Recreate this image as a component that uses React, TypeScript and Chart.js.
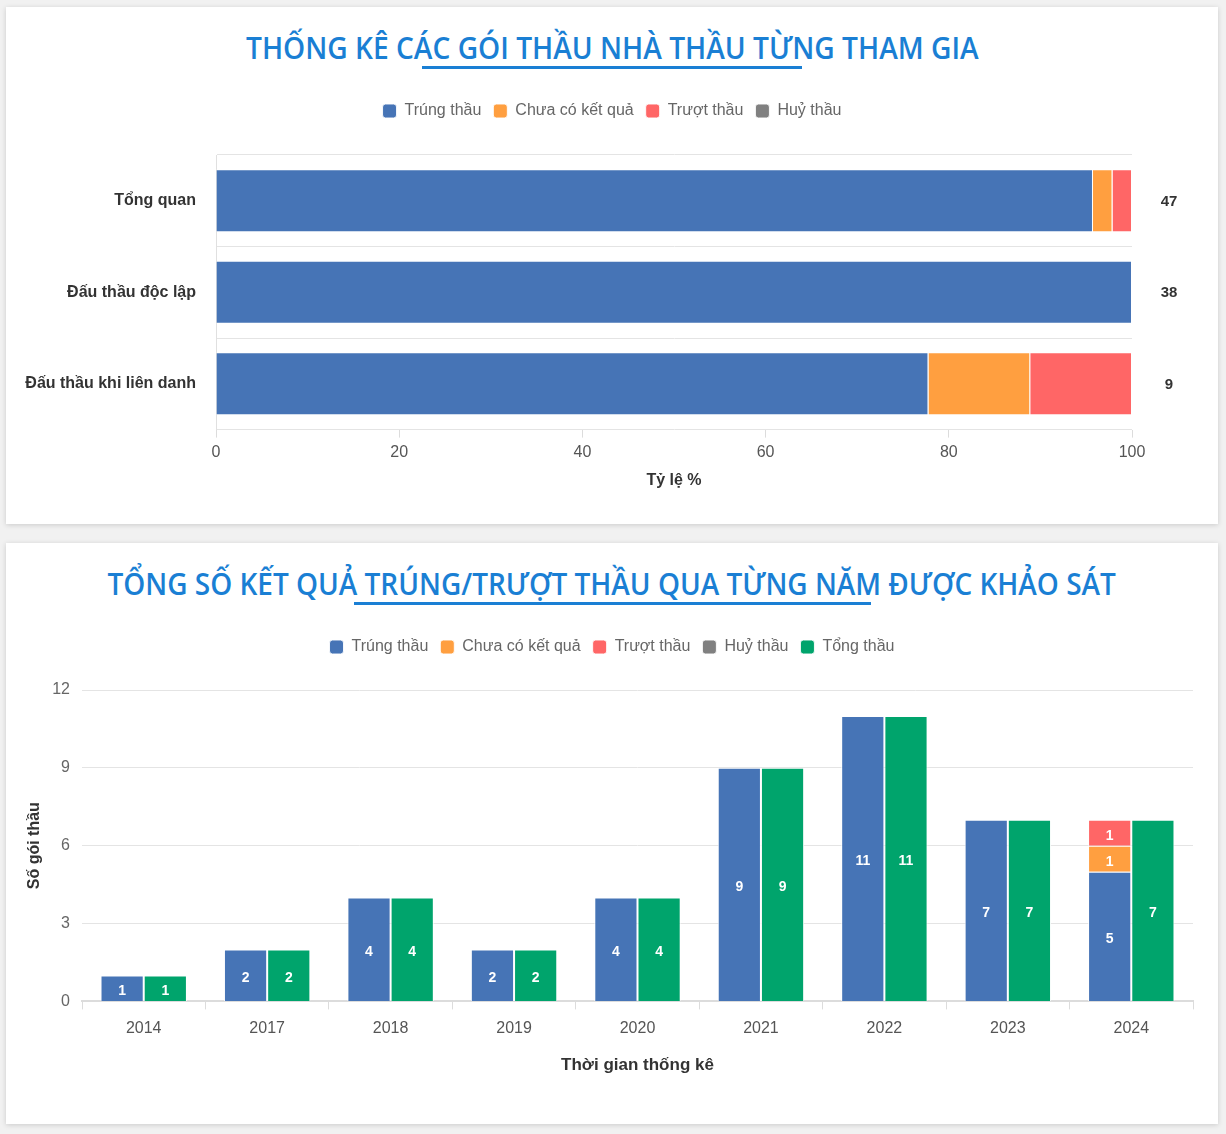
import React, { useEffect, useLayoutEffect, useRef } from "react";
import { Chart, registerables } from "chart.js";

Chart.register(...registerables);

// ---------- Data: chart 1 (percentage share per group) ----------
const overviewCategories = ["Tổng quan", "Đấu thầu độc lập", "Đấu thầu khi liên danh"];
const overviewTotals = [47, 38, 9];
const overviewWon = [95.74, 100, 77.78];
const overviewPending = [2.13, 0, 11.11];
const overviewLost = [2.13, 0, 11.11];
const overviewCancelled = [0, 0, 0];
const overviewAxisMax = 100;
const overviewAxisStep = 20;

// ---------- Data: chart 2 (counts per year) ----------
const years = ["2014", "2017", "2018", "2019", "2020", "2021", "2022", "2023", "2024"];
const yearWon = [1, 2, 4, 2, 4, 9, 11, 7, 5];
const yearPending = [0, 0, 0, 0, 0, 0, 0, 0, 1];
const yearLost = [0, 0, 0, 0, 0, 0, 0, 0, 1];
const yearCancelled = [0, 0, 0, 0, 0, 0, 0, 0, 0];
const yearTotal = [1, 2, 4, 2, 4, 9, 11, 7, 7];
const yearAxisMax = 12;
const yearAxisStep = 3;

const TITLE_1 = "THỐNG KÊ CÁC GÓI THẦU NHÀ THẦU TỪNG THAM GIA";
const TITLE_2 = "TỔNG SỐ KẾT QUẢ TRÚNG/TRƯỢT THẦU QUA TỪNG NĂM ĐƯỢC KHẢO SÁT";

const BLUE = "#4674b6";
const ORANGE = "#ff9f40";
const RED = "#ff6666";
const GREY = "#808080";
const GREEN = "#00a46c";
const TITLE_BLUE = "#1a7fd4";
const FONT = '"Liberation Sans", Arial, sans-serif';

Chart.defaults.font.family = FONT;

const legendGap = (extra: number) => ({
  id: "legendGap",
  beforeInit(chart: any) {
    const legend = chart.legend;
    if (!legend) return;
    const fit = legend.fit;
    legend.fit = function () {
      fit.call(this);
      this.height += extra;
    };
  },
  afterLayout(chart: any) {
    const legend = chart.legend;
    if (!legend) return;
    // center the legend on the whole canvas rather than on the padded area
    legend.left = 0;
    legend.right = chart.width;
  },
});

const totalsLabels = {
  id: "totalsLabels",
  afterDatasetsDraw(chart: any) {
    const { ctx, chartArea } = chart;
    const yScale = chart.scales.y;
    ctx.save();
    ctx.font = `bold 15px ${FONT}`;
    ctx.fillStyle = "#333";
    ctx.textAlign = "center";
    ctx.textBaseline = "middle";
    overviewTotals.forEach((t, i) => {
      ctx.fillText(String(t), chartArea.right + 37, yScale.getPixelForValue(i) + 1);
    });
    ctx.restore();
  },
};

const barValueLabels = {
  id: "barValueLabels",
  afterDatasetsDraw(chart: any) {
    const ctx = chart.ctx;
    ctx.save();
    ctx.font = `bold 14px ${FONT}`;
    ctx.fillStyle = "#fff";
    ctx.textAlign = "center";
    ctx.textBaseline = "middle";
    chart.data.datasets.forEach((ds: any, i: number) => {
      const meta = chart.getDatasetMeta(i);
      if (meta.hidden) return;
      meta.data.forEach((el: any, j: number) => {
        const v = ds.data[j];
        if (!v) return;
        const p = el.getProps(["x", "y", "base"], true);
        ctx.fillText(String(v), p.x, (p.y + p.base) / 2 + 3);
      });
    });
    ctx.restore();
  },
};

const legendOptions = {
  position: "top" as const,
  labels: {
    boxWidth: 14,
    boxHeight: 14,
    useBorderRadius: true,
    borderRadius: 3,
    padding: 12,
    color: "#666",
    font: { size: 16, family: FONT },
  },
};

function TitleBlock({ text, target, underline }: { text: string; target: number; underline: number }) {
  const ref = useRef<HTMLSpanElement>(null);
  useLayoutEffect(() => {
    const el = ref.current;
    if (!el) return;
    const w = el.offsetWidth;
    if (w > 0) el.style.transform = `scaleX(${target / w})`;
  }, [target]);
  return (
    <>
      <div
        style={{
          position: "absolute",
          top: 21,
          left: 0,
          width: "100%",
          textAlign: "center",
          lineHeight: "40px",
          height: 40,
          whiteSpace: "nowrap",
        }}
      >
        <span
          ref={ref}
          style={{
            display: "inline-block",
            fontFamily: '"Open Sans", sans-serif',
            fontSize: 30,
            fontWeight: 600,
            color: TITLE_BLUE,
            transformOrigin: "center",
          }}
        >
          {text}
        </span>
      </div>
      <div
        style={{
          position: "absolute",
          top: 59,
          left: 606 - underline / 2,
          width: underline,
          height: 3,
          background: TITLE_BLUE,
        }}
      />
    </>
  );
}

const cardStyle = (top: number, height: number): React.CSSProperties => ({
  position: "absolute",
  left: 6,
  top,
  width: 1212,
  height,
  background: "#fff",
  boxShadow: "0 1px 5px rgba(0,0,0,0.16)",
});

export default function App() {
  const c1 = useRef<HTMLCanvasElement>(null);
  const c2 = useRef<HTMLCanvasElement>(null);

  useEffect(() => {
    document.body.style.margin = "0";
    document.body.style.background = "#f1f1f1";

    const border = { borderWidth: 1, borderColor: "rgba(255,255,255,0.9)" };

    const chart1 = new Chart(c1.current!, {
      type: "bar",
      data: {
        labels: overviewCategories,
        datasets: [
          { label: "Trúng thầu", data: overviewWon, backgroundColor: BLUE, ...border },
          { label: "Chưa có kết quả", data: overviewPending, backgroundColor: ORANGE, ...border },
          { label: "Trượt thầu", data: overviewLost, backgroundColor: RED, ...border },
          { label: "Huỷ thầu", data: overviewCancelled, backgroundColor: GREY, ...border },
        ],
      },
      options: {
        indexAxis: "y",
        responsive: false,
        animation: false,
        barPercentage: 0.86,
        categoryPercentage: 0.8,
        layout: { padding: { left: 10, right: 86, top: 0, bottom: 17 } },
        plugins: {
          legend: legendOptions,
          tooltip: { enabled: false },
        },
        scales: {
          x: {
            stacked: true,
            min: 0,
            max: overviewAxisMax,
            ticks: { stepSize: overviewAxisStep, color: "#555", font: { size: 16 }, padding: 5 },
            grid: { drawOnChartArea: false, drawTicks: true, tickLength: 8, color: "#dcdcdc" },
            border: { display: false },
            title: {
              display: true,
              text: "Tỷ lệ %",
              color: "#333",
              font: { size: 16, weight: "bold" },
              padding: { top: 4, bottom: 4 },
            },
          },
          y: {
            stacked: true,
            ticks: { color: "#333", font: { size: 16, weight: "bold" }, padding: 20 },
            grid: { color: "#e4e4e4", drawTicks: false, offset: true },
            border: { color: "#e0e0e0" },
            afterFit: (scale: any) => {
              scale.width = 200;
            },
          },
        },
      } as any,
      plugins: [legendGap(26), totalsLabels],
    });

    const chart2 = new Chart(c2.current!, {
      type: "bar",
      data: {
        labels: years,
        datasets: [
          { label: "Trúng thầu", data: yearWon, backgroundColor: BLUE, stack: "result", ...border },
          { label: "Chưa có kết quả", data: yearPending, backgroundColor: ORANGE, stack: "result", ...border },
          { label: "Trượt thầu", data: yearLost, backgroundColor: RED, stack: "result", ...border },
          { label: "Huỷ thầu", data: yearCancelled, backgroundColor: GREY, stack: "result", ...border },
          { label: "Tổng thầu", data: yearTotal, backgroundColor: GREEN, stack: "total", ...border },
        ],
      },
      options: {
        responsive: false,
        animation: false,
        barPercentage: 1,
        categoryPercentage: 0.7,
        layout: { padding: { left: 10, right: 25, top: 0, bottom: 20 } },
        plugins: {
          legend: legendOptions,
          tooltip: { enabled: false },
        },
        scales: {
          x: {
            stacked: true,
            ticks: { color: "#555", font: { size: 16 }, padding: 10 },
            grid: { drawOnChartArea: false, drawTicks: true, tickLength: 8, color: "#dcdcdc", offset: true },
            border: { color: "#dcdcdc", width: 2 },
            title: {
              display: true,
              text: "Thời gian thống kê",
              color: "#333",
              font: { size: 17, weight: "bold" },
              padding: { top: 7, bottom: 4 },
            },
          },
          y: {
            stacked: true,
            min: 0,
            max: yearAxisMax,
            ticks: { stepSize: yearAxisStep, color: "#666", font: { size: 16 }, padding: 12 },
            grid: { color: "#e4e4e4", drawTicks: false },
            border: { display: false },
            title: {
              display: true,
              text: "Số gói thầu",
              color: "#333",
              font: { size: 16, weight: "bold" },
              padding: { top: 9, bottom: 0 },
            },
            afterFit: (scale: any) => {
              scale.width = 66;
            },
          },
        },
      } as any,
      plugins: [legendGap(25), barValueLabels],
    });

    return () => {
      chart1.destroy();
      chart2.destroy();
    };
  }, []);

  return (
    <div style={{ position: "relative", width: 1226, height: 1134, background: "#f1f1f1", overflow: "hidden" }}>
      <div style={cardStyle(7, 517)}>
        <TitleBlock text={TITLE_1} target={733} underline={380} />
        <canvas ref={c1} width={1212} height={420} style={{ position: "absolute", left: 0, top: 84 }} />
      </div>
      <div style={cardStyle(543, 581)}>
        <TitleBlock text={TITLE_2} target={1008} underline={517} />
        <canvas ref={c2} width={1212} height={473} style={{ position: "absolute", left: 0, top: 84 }} />
      </div>
    </div>
  );
}
